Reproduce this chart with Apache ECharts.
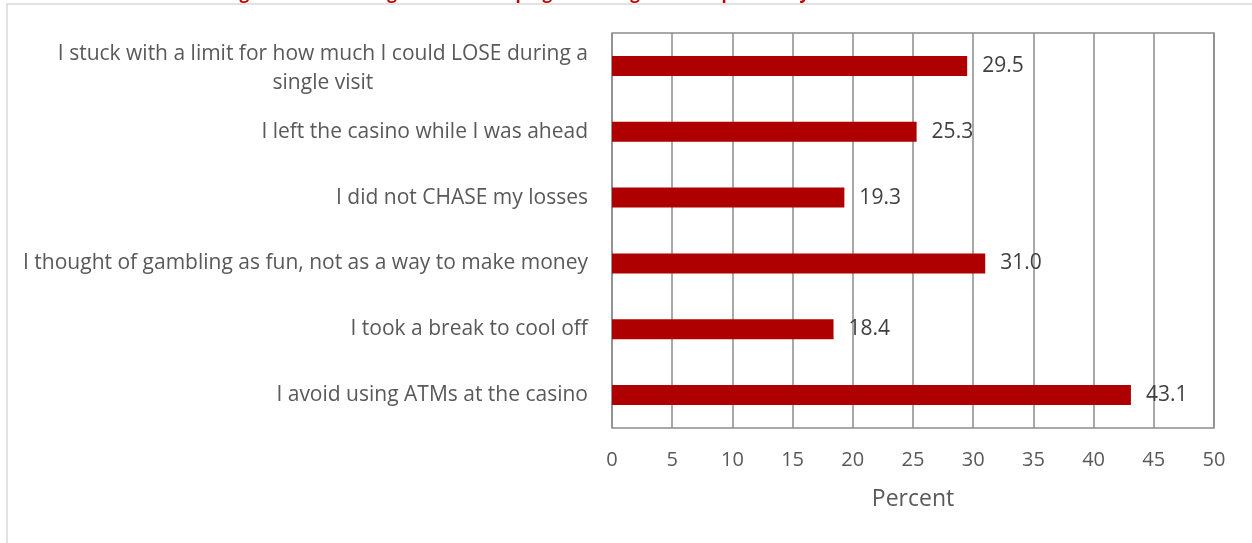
<!DOCTYPE html>
<html>
<head>
<meta charset="utf-8">
<title>Safe gambling strategies</title>
<script src="https://cdn.jsdelivr.net/npm/echarts@6/dist/echarts.min.js"></script>
<style>
  html, body { margin: 0; padding: 0; background: #fff; }
  #chart { width: 1252px; height: 543px; }
</style>
</head>
<body>
<div id="chart"></div>
<script>
// top to bottom, as in the picture
const categories = [
  'I stuck with a limit for how much I could LOSE during a\nsingle visit',
  'I left the casino while I was ahead',
  'I did not CHASE my losses',
  'I thought of gambling as fun, not as a way to make money',
  'I took a break to cool off',
  'I avoid using ATMs at the casino'
];
const percents = [29.5, 25.3, 19.3, 31.0, 18.4, 43.1];
const xTicks = [0, 5, 10, 15, 20, 25, 30, 35, 40, 45, 50];

// the title sits mostly above the picture's top edge, only its descenders show
const titleText = 'Figure 10: Percentage of those keeping to strategies in the previous year';

const chart = echarts.init(document.getElementById('chart'));

// two-line label sits a little lower in the original
const yData = categories.map(function (c) {
  return c.indexOf('\n') >= 0 ? { value: c, textStyle: { padding: [6, 0, 0, 0] } } : c;
});

const option = {
  animation: false,
  textStyle: { fontFamily: 'Open Sans' },
  graphic: [
    {
      type: 'rect',
      shape: { x: 7, y: 4, width: 1400, height: 700 },
      style: { fill: 'none', stroke: '#d9d9d9', lineWidth: 1.5 },
      silent: true
    },
    {
      type: 'text',
      x: 225,
      y: 3,
      style: {
        text: titleText,
        fill: '#c00000',
        font: 'bold 17px "Open Sans"',
        align: 'left',
        verticalAlign: 'bottom'
      },
      silent: true
    }
  ],
  grid: {
    left: 612,
    right: 38,
    top: 33,
    bottom: 115,
    show: true,
    borderColor: '#8c8c8c',
    borderWidth: 1.5
  },
  xAxis: {
    type: 'value',
    min: xTicks[0],
    max: xTicks[xTicks.length - 1],
    interval: xTicks[1] - xTicks[0],
    name: 'Percent',
    nameLocation: 'middle',
    nameGap: 60,
    nameTextStyle: { fontSize: 23, color: '#595959' },
    axisLine: { show: false },
    axisTick: { show: false },
    axisLabel: { fontSize: 20, color: '#595959', margin: 22 },
    splitLine: { show: true, lineStyle: { color: '#8c8c8c', width: 1.5 } }
  },
  yAxis: {
    type: 'category',
    inverse: true,
    data: yData,
    axisLine: { show: false },
    axisTick: { show: false },
    axisLabel: {
      margin: 24,
      formatter: function (v) {
        return v.split('\n').map(function (s) { return '{c|' + s + '}'; }).join('\n');
      },
      rich: {
        c: { fontSize: 21, color: '#595959', align: 'center', lineHeight: 29, fontFamily: 'Open Sans' }
      }
    }
  },
  series: [{
    type: 'bar',
    data: percents,
    barWidth: 20,
    itemStyle: { color: '#ae0000' },
    label: {
      show: true,
      position: 'right',
      distance: 15,
      fontSize: 21,
      color: '#404040',
      formatter: function (p) { return p.value.toFixed(1); }
    }
  }]
};

chart.setOption(option);
</script>
</body>
</html>
